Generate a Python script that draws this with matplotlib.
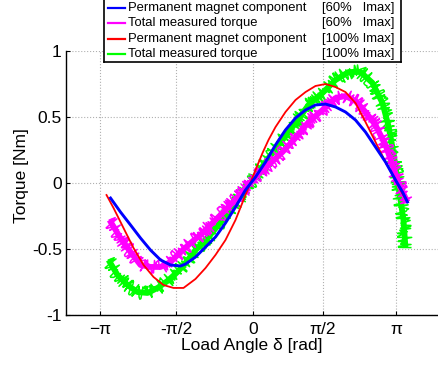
import matplotlib
matplotlib.use('Agg')
import matplotlib.pyplot as plt

plt.rcParams['font.family'] = ['Liberation Sans', 'DejaVu Sans']

# load angle [rad] and torque [Nm]
pm60_x = [-2.926, -2.721, -2.515, -2.310, -2.105, -1.899, -1.694, -1.489, -1.386,
          -1.181, -0.975, -0.770, -0.565, -0.359, -0.154, 0.051, 0.257, 0.462,
          0.667, 0.873, 1.078, 1.283, 1.489, 1.694, 1.899, 2.105, 2.310, 2.515,
          2.721, 2.926, 3.070, 3.172]
pm60_y = [-0.114, -0.220, -0.318, -0.417, -0.508, -0.583, -0.621, -0.629, -0.614,
          -0.561, -0.485, -0.409, -0.303, -0.182, -0.053, 0.045, 0.159, 0.288,
          0.402, 0.492, 0.553, 0.591, 0.598, 0.576, 0.538, 0.477, 0.386, 0.273,
          0.159, 0.023, -0.068, -0.144]

tot60_x = [-2.947, -2.721, -2.515, -2.310, -2.105, -1.899, -1.694, -1.489, -1.283,
           -1.037, -0.770, -0.503, -0.216, 0.051, 0.318, 0.606, 0.873, 1.140,
           1.427, 1.694, 1.899, 2.105, 2.310, 2.515, 2.721, 2.885, 3.029, 3.172]
tot60_y = [-0.280, -0.417, -0.523, -0.621, -0.636, -0.636, -0.598, -0.523, -0.455,
           -0.379, -0.280, -0.182, -0.068, 0.045, 0.136, 0.235, 0.341, 0.462,
           0.553, 0.644, 0.659, 0.621, 0.538, 0.439, 0.288, 0.114, -0.038, -0.144]

pm100_x = [-3.008, -2.864, -2.659, -2.454, -2.248, -2.043, -1.838, -1.632, -1.427,
           -1.181, -0.975, -0.770, -0.565, -0.359, -0.154, 0.051, 0.195, 0.318,
           0.462, 0.667, 0.873, 1.078, 1.283, 1.489, 1.694, 1.899, 2.105, 2.310,
           2.515, 2.721, 2.926, 3.070, 3.172]
pm100_y = [-0.091, -0.189, -0.341, -0.492, -0.621, -0.712, -0.773, -0.795, -0.795,
           -0.727, -0.644, -0.545, -0.432, -0.280, -0.091, 0.098, 0.227, 0.326,
           0.424, 0.538, 0.629, 0.689, 0.735, 0.750, 0.727, 0.689, 0.606, 0.462,
           0.311, 0.159, 0.023, -0.083, -0.144]

tot100_x = [-2.967, -2.782, -2.577, -2.372, -2.166, -1.961, -1.756, -1.550, -1.386,
            -1.181, -0.914, -0.626, -0.359, -0.092, 0.113, 0.318, 0.606, 0.873,
            1.140, 1.427, 1.694, 1.961, 2.207, 2.454, 2.659, 2.782, 2.885, 2.988,
            3.090, 3.131]
tot100_y = [-0.583, -0.697, -0.773, -0.826, -0.833, -0.795, -0.742, -0.674, -0.606,
            -0.508, -0.409, -0.280, -0.152, -0.023, 0.083, 0.189, 0.326, 0.455,
            0.591, 0.682, 0.780, 0.841, 0.841, 0.758, 0.606, 0.432, 0.227, -0.023,
            -0.280, -0.492]

xticks = [-3.14, -1.58, 0.0, 1.44, 2.94]
xticklabels = ['\u2212\u03c0', '-\u03c0/2', '0', '\u03c0/2', '\u03c0']
yticks = [-1, -0.5, 0, 0.5, 1]
yticklabels = ['-1', '-0.5', '0', '0.5', '1']

legend_names = ['Permanent magnet component', 'Total measured torque',
                'Permanent magnet component', 'Total measured torque']
legend_tags = ['[60%   Imax]', '[60%   Imax]', '[100% Imax]', '[100% Imax]']
colors = ['#0000ff', '#ff00ff', '#ff0000', '#00ff00']

W, H = 438, 365
fig = plt.figure(figsize=(W / 100, H / 100), dpi=100)
ax = fig.add_axes([66 / W, (H - 315) / H, (440 - 66) / W, (315 - 51) / H])

# measured curves are noisy: a solid band plus a jittery sketch on top
for xs, ys, c in ((tot100_x, tot100_y, colors[3]), (tot60_x, tot60_y, colors[1])):
    ax.plot(xs, ys, color=c, linewidth=4.2, solid_capstyle='butt')
    fuzz, = ax.plot(xs, ys, color=c, linewidth=1.1)
    fuzz.set_sketch_params(scale=7, length=0.4, randomness=1.5)
ax.plot(pm100_x, pm100_y, color=colors[2], linewidth=1.3)
ax.plot(pm60_x, pm60_y, color=colors[0], linewidth=2.1)

ax.set_xlim(-3.84, 3.84)
ax.set_ylim(-1, 1)
ax.set_xticks(xticks)
ax.set_xticklabels(xticklabels)
ax.set_yticks(yticks)
ax.set_yticklabels(yticklabels)
ax.tick_params(direction='in', length=3, labelsize=12.5, width=0.8)
ax.tick_params(axis='y', pad=3)
ax.tick_params(axis='x', pad=5)
ax.grid(True, linestyle=':', color='#b0b0b0', linewidth=0.8)
ax.spines['top'].set_visible(False)
ax.spines['right'].set_visible(False)
for s in ('left', 'bottom'):
    ax.spines[s].set_linewidth(1.0)

ax.set_ylabel('Torque [Nm]', fontsize=12.5)
ax.yaxis.set_label_coords(-0.099, 0.53)
ax.set_xlabel('Load Angle \u03b4 [rad]', fontsize=12.5)
ax.xaxis.set_label_coords(0.497, -0.087)

# legend box, laid out in image pixels (top edge is cut off)
lax = fig.add_axes([104 / W, (H - 62) / H, (401 - 104) / W, 72 / H])
lax.set_xlim(104, 401)
lax.set_ylim(62, -10)
lax.set_xticks([])
lax.set_yticks([])
lax.set_facecolor('white')
for s in lax.spines.values():
    s.set_linewidth(1.2)
    s.set_color('black')
rows = [8.5, 23.5, 39, 54]
for yrow, name, tag, c in zip(rows, legend_names, legend_tags, colors):
    lax.plot([108, 125], [yrow, yrow], color=c, linewidth=1.6)
    lax.text(128, yrow, name, fontsize=9.4, va='center', ha='left')
    lax.text(322, yrow, tag, fontsize=9.4, va='center', ha='left')

fig.savefig('out.png', dpi=100)
